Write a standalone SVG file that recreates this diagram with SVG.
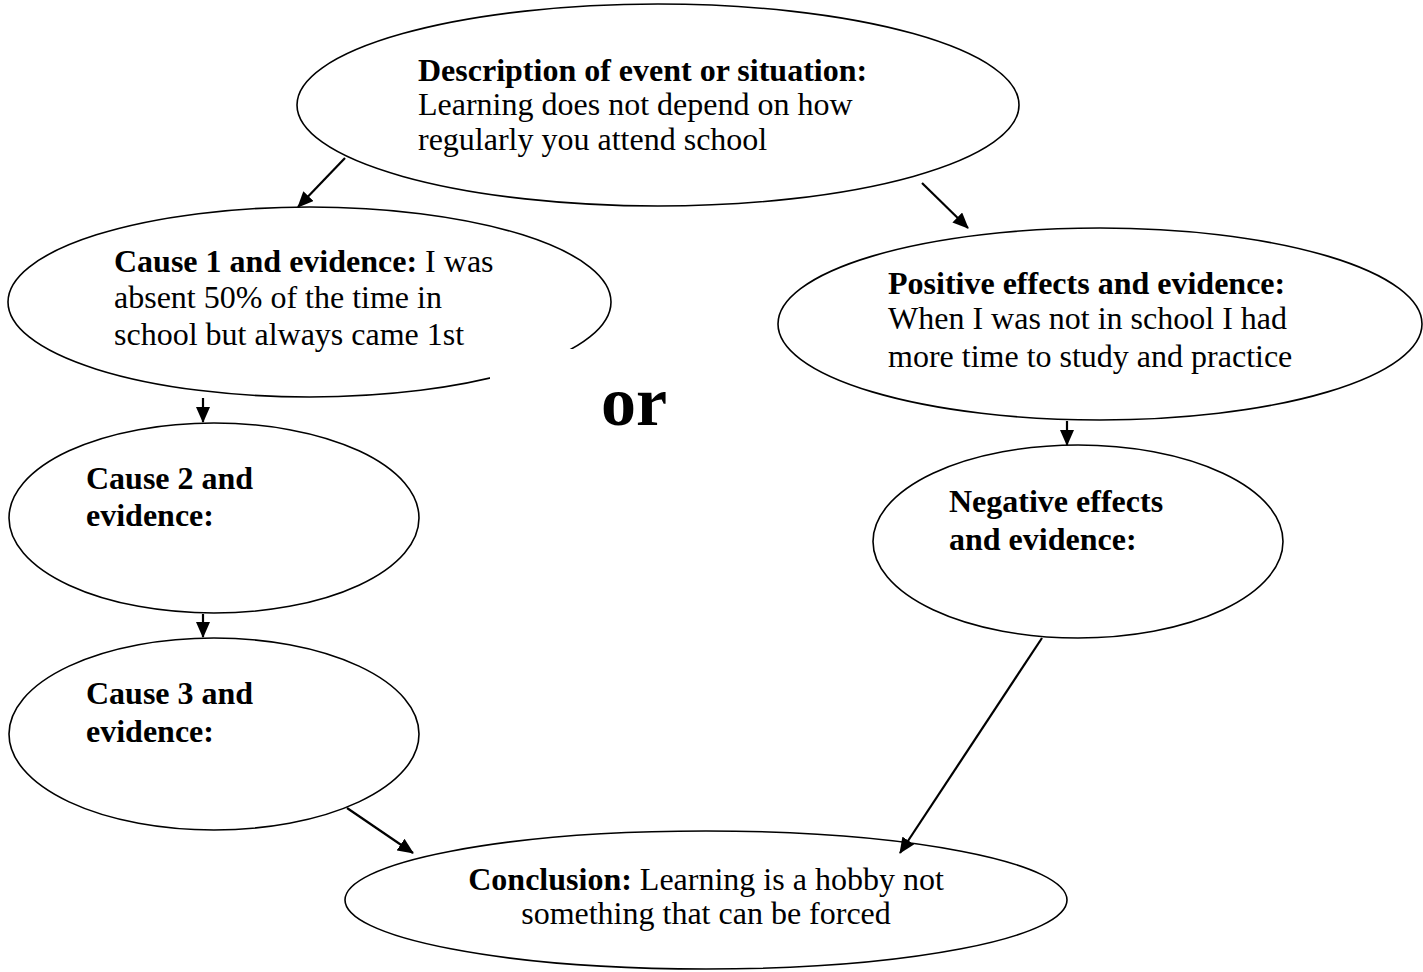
<svg xmlns="http://www.w3.org/2000/svg" width="1423" height="972" viewBox="0 0 1423 972">
<style>
.n{fill:#fff;stroke:#000;stroke-width:1.6}
.t{font-family:"Liberation Serif","Times New Roman",serif;font-size:32px;fill:#000}
.b{font-weight:bold}
.c{stroke:#000;stroke-width:2.2;fill:none;marker-end:url(#ah)}
</style>
<defs>
<marker id="ah" viewBox="0 0 16 14" refX="15" refY="7" markerWidth="16" markerHeight="14" markerUnits="userSpaceOnUse" orient="auto">
<path d="M0,0 L16,7 L0,14 z" fill="#000"/>
</marker>
</defs>
<rect width="1423" height="972" fill="#fff"/>
<g id="description">
<ellipse class="n" cx="658" cy="105" rx="361" ry="101"/>
<text class="t" x="418"><tspan class="b" x="418" y="81">Description of event or situation:</tspan><tspan x="418" y="115">Learning does not depend on how</tspan><tspan x="418" y="150">regularly you attend school</tspan></text>
</g>
<g id="cause1">
<ellipse class="n" cx="309.5" cy="302" rx="301.5" ry="95"/>
<text class="t" x="114"><tspan x="114" y="272"><tspan class="b">Cause 1 and evidence:</tspan> I was</tspan><tspan x="114" y="308">absent 50% of the time in</tspan><tspan x="114" y="345">school but always came 1st</tspan></text>
</g>
<g id="or">
<rect x="490" y="349" width="260" height="100" fill="#fff"/>
<text class="t b" x="601" y="425" style="font-size:70px">or</text>
</g>
<g id="cause2">
<ellipse class="n" cx="214" cy="518" rx="205" ry="95"/>
<text class="t b"><tspan x="86" y="489">Cause 2 and</tspan><tspan x="86" y="526">evidence:</tspan></text>
</g>
<g id="cause3">
<ellipse class="n" cx="214" cy="734" rx="205" ry="96"/>
<text class="t b"><tspan x="86" y="704">Cause 3 and</tspan><tspan x="86" y="742">evidence:</tspan></text>
</g>
<g id="positive">
<ellipse class="n" cx="1100" cy="324" rx="322" ry="96"/>
<text class="t" x="888"><tspan class="b" x="888" y="294">Positive effects and evidence:</tspan><tspan x="888" y="329">When I was not in school I had</tspan><tspan x="888" y="367">more time to study and practice</tspan></text>
</g>
<g id="negative">
<ellipse class="n" cx="1078" cy="541.5" rx="205" ry="96.5"/>
<text class="t b"><tspan x="949" y="512">Negative effects</tspan><tspan x="949" y="550">and evidence:</tspan></text>
</g>
<g id="conclusion">
<ellipse class="n" cx="706" cy="900" rx="361" ry="69"/>
<text class="t" text-anchor="middle"><tspan x="706" y="890"><tspan class="b">Conclusion:</tspan> Learning is a hobby not</tspan><tspan x="706" y="924">something that can be forced</tspan></text>
</g>
<g id="connectors">
<line class="c" x1="345" y1="158" x2="298" y2="207"/>
<line class="c" x1="922" y1="183" x2="968" y2="228"/>
<line class="c" x1="203" y1="398" x2="203" y2="422"/>
<line class="c" x1="203" y1="614" x2="203" y2="637"/>
<line class="c" x1="347" y1="808" x2="413" y2="853"/>
<line class="c" x1="1067" y1="421" x2="1067" y2="445"/>
<line class="c" x1="1042" y1="638" x2="900" y2="853"/>
</g>
</svg>
